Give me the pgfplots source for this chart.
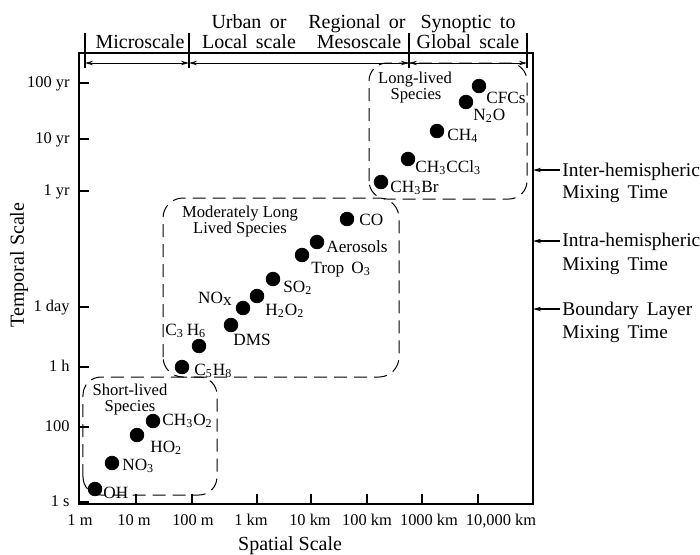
\documentclass[border=0pt]{standalone}
\usepackage{pgfplots}
\pgfplotsset{compat=1.18}
\usepackage{fontspec}
\setmainfont{Liberation Serif}
\usetikzlibrary{arrows.meta}
\newcommand{\sfs}{\fontsize{8.6}{10}\selectfont}
\newcommand{\gfs}{\fontsize{8.3}{9}\selectfont}
\newcommand{\tfs}{\fontsize{8.2}{9}\selectfont}
\newcommand{\bfs}{\fontsize{10}{12}\selectfont}
\newcommand{\rfs}{\fontsize{9.7}{11}\selectfont}
\newcommand{\sub}[1]{\textsubscript{#1}}
\tikzset{
  lab/.style={font=\sfs, inner sep=0pt, anchor=base west},
  labc/.style={font=\gfs, inner sep=0pt, anchor=base},
  band/.style={font=\bfs, inner sep=0pt, anchor=base},
  rlab/.style={font=\rfs, inner sep=0pt, anchor=base west},
  grp/.style={line width=0.5pt, dash pattern=on 6.5pt off 3.5pt, rounded corners=9pt},
  ah/.tip={Stealth[length=4pt,width=2.2pt]}
}
\begin{document}
\begin{tikzpicture}
\useasboundingbox (-39.5pt,-25pt) rectangle (310.5pt,252pt);
\begin{axis}[
  at={(0,0)}, anchor=south west,
  x=0.5pt, y=0.5pt,
  xmin=0, xmax=454, ymin=0, ymax=451,
  clip=false,
  axis line style={line width=0.6pt},
  tick style={line width=0.6pt, black},
  major tick length=5pt,
  tick align=inside,
  xtick pos=bottom, ytick pos=left,
  xtick={57,113,178,232,288,343,399},
  xticklabels={,,,,,,},
  extra x ticks={1,55,114,172,231,288,350,422},
  extra x tick labels={1 m,10 m,100 m,1 km,10 km,100 km,1000 km,{10,000 km}},
  extra x tick style={major tick length=0pt},
  xticklabel style={font=\tfs, anchor=base, inner sep=0pt, yshift=-10.5pt},
  ytick={2,77,137,197,313,365,421},
  yticklabels={1 s,100,1 h,1 day,1 yr,10 yr,100 yr},
  yticklabel style={font=\tfs, anchor=mid east, inner sep=0pt, xshift=-4.5pt},
  xlabel={Spatial Scale}, ylabel={Temporal Scale},
  label style={font=\bfs},
  xlabel style={at={(axis description cs:0.465,-0.093)}, anchor=center},
  ylabel style={at={(axis description cs:-0.132,0.530)}, anchor=center},
]
% species
\addplot[only marks, mark=*, mark size=3.4pt, black] coordinates {
  (400,418) (387,402) (358,373) (329,345) (302,322)
  (268,285) (238,262) (223,249) (194,225) (178,208) (164,196) (152,179) (120,158) (103,137)
  (74,83) (58,69) (33,41) (16,15)
};
% group boxes
\draw[grp] (axis cs:4,9) rectangle (axis cs:138,127);
\draw[grp, rounded corners=10pt] (axis cs:84,127) rectangle (axis cs:320,306);
\draw[grp] (axis cs:290,305) rectangle (axis cs:448,441);
% labels long-lived
\node[labc] at (axis cs:336,421) {Long-lived};
\node[labc] at (axis cs:337,405) {Species};
\node[lab] at (axis cs:407,401) {CFCs};
\node[lab] at (axis cs:394,384) {N\sub{2}O};
\node[lab] at (axis cs:368,364) {CH\sub{4}};
\node[lab] at (axis cs:336,332) {CH\sub{3}CCl\sub{3}};
\node[lab] at (axis cs:311,312) {CH\sub{3}Br};
% moderately long-lived
\node[labc] at (axis cs:161,287) {Moderately Long};
\node[labc] at (axis cs:161,271) {Lived Species};
\node[lab] at (axis cs:280,279) {CO};
\node[lab] at (axis cs:247,252) {Aerosols};
\node[lab] at (axis cs:232,231) {Trop\, O\sub{3}};
\node[lab] at (axis cs:204,212) {SO\sub{2}};
\node[lab] at (axis cs:186,189) {H\sub{2}O\sub{2}};
\node[lab, anchor=base east] at (axis cs:153,201) {NO\raisebox{-0.3ex}{x}};
\node[lab] at (axis cs:154,159) {DMS};
\node[lab] at (axis cs:86,169) {C\sub{3}\,H\sub{6}};
\node[lab] at (axis cs:115,129) {C\sub{5}H\sub{8}};
% short-lived
\node[labc] at (axis cs:51,109) {Short-lived};
\node[labc] at (axis cs:51,93) {Species};
\node[lab] at (axis cs:83,79) {CH\sub{3}O\sub{2}};
\node[lab] at (axis cs:71,52) {HO\sub{2}};
\node[lab] at (axis cs:43,34) {NO\sub{3}};
\node[lab] at (axis cs:24,6) {OH};
% top band
\draw[line width=0.6pt] (axis cs:6,436) -- (axis cs:6,471);
\draw[line width=0.6pt] (axis cs:110,436) -- (axis cs:110,471);
\draw[line width=0.6pt] (axis cs:330,436) -- (axis cs:330,471);
\draw[line width=0.6pt] (axis cs:448,436) -- (axis cs:448,471);
\draw[line width=0.5pt, ah-ah] (axis cs:6,441) -- (axis cs:110,441);
\draw[line width=0.5pt, ah-ah] (axis cs:110,441) -- (axis cs:330,441);
\draw[line width=0.5pt, ah-ah] (axis cs:330,441) -- (axis cs:448,441);
\node[band] at (axis cs:61,456) {Microscale};
\node[band] at (axis cs:170,476) {Urban\, or};
\node[band] at (axis cs:170,456) {Local\, scale};
\node[band] at (axis cs:278,476) {Regional\, or};
\node[band] at (axis cs:280,456) {Mesoscale};
\node[band] at (axis cs:389,476) {Synoptic\, to};
\node[band] at (axis cs:389,456) {Global\, scale};
% right annotations
\draw[line width=0.6pt, ah-] (axis cs:454,334) -- (axis cs:481,334);
\draw[line width=0.6pt, ah-] (axis cs:454,263) -- (axis cs:481,263);
\draw[line width=0.6pt, ah-] (axis cs:454,195) -- (axis cs:481,195);
\node[rlab] at (axis cs:483,328) {Inter-hemispheric};
\node[rlab] at (axis cs:483,306) {Mixing\, Time};
\node[rlab] at (axis cs:483,258) {Intra-hemispheric};
\node[rlab] at (axis cs:483,234) {Mixing\, Time};
\node[rlab] at (axis cs:483,189) {Boundary\, Layer};
\node[rlab] at (axis cs:483,166) {Mixing\, Time};
\end{axis}
\end{tikzpicture}
\end{document}
